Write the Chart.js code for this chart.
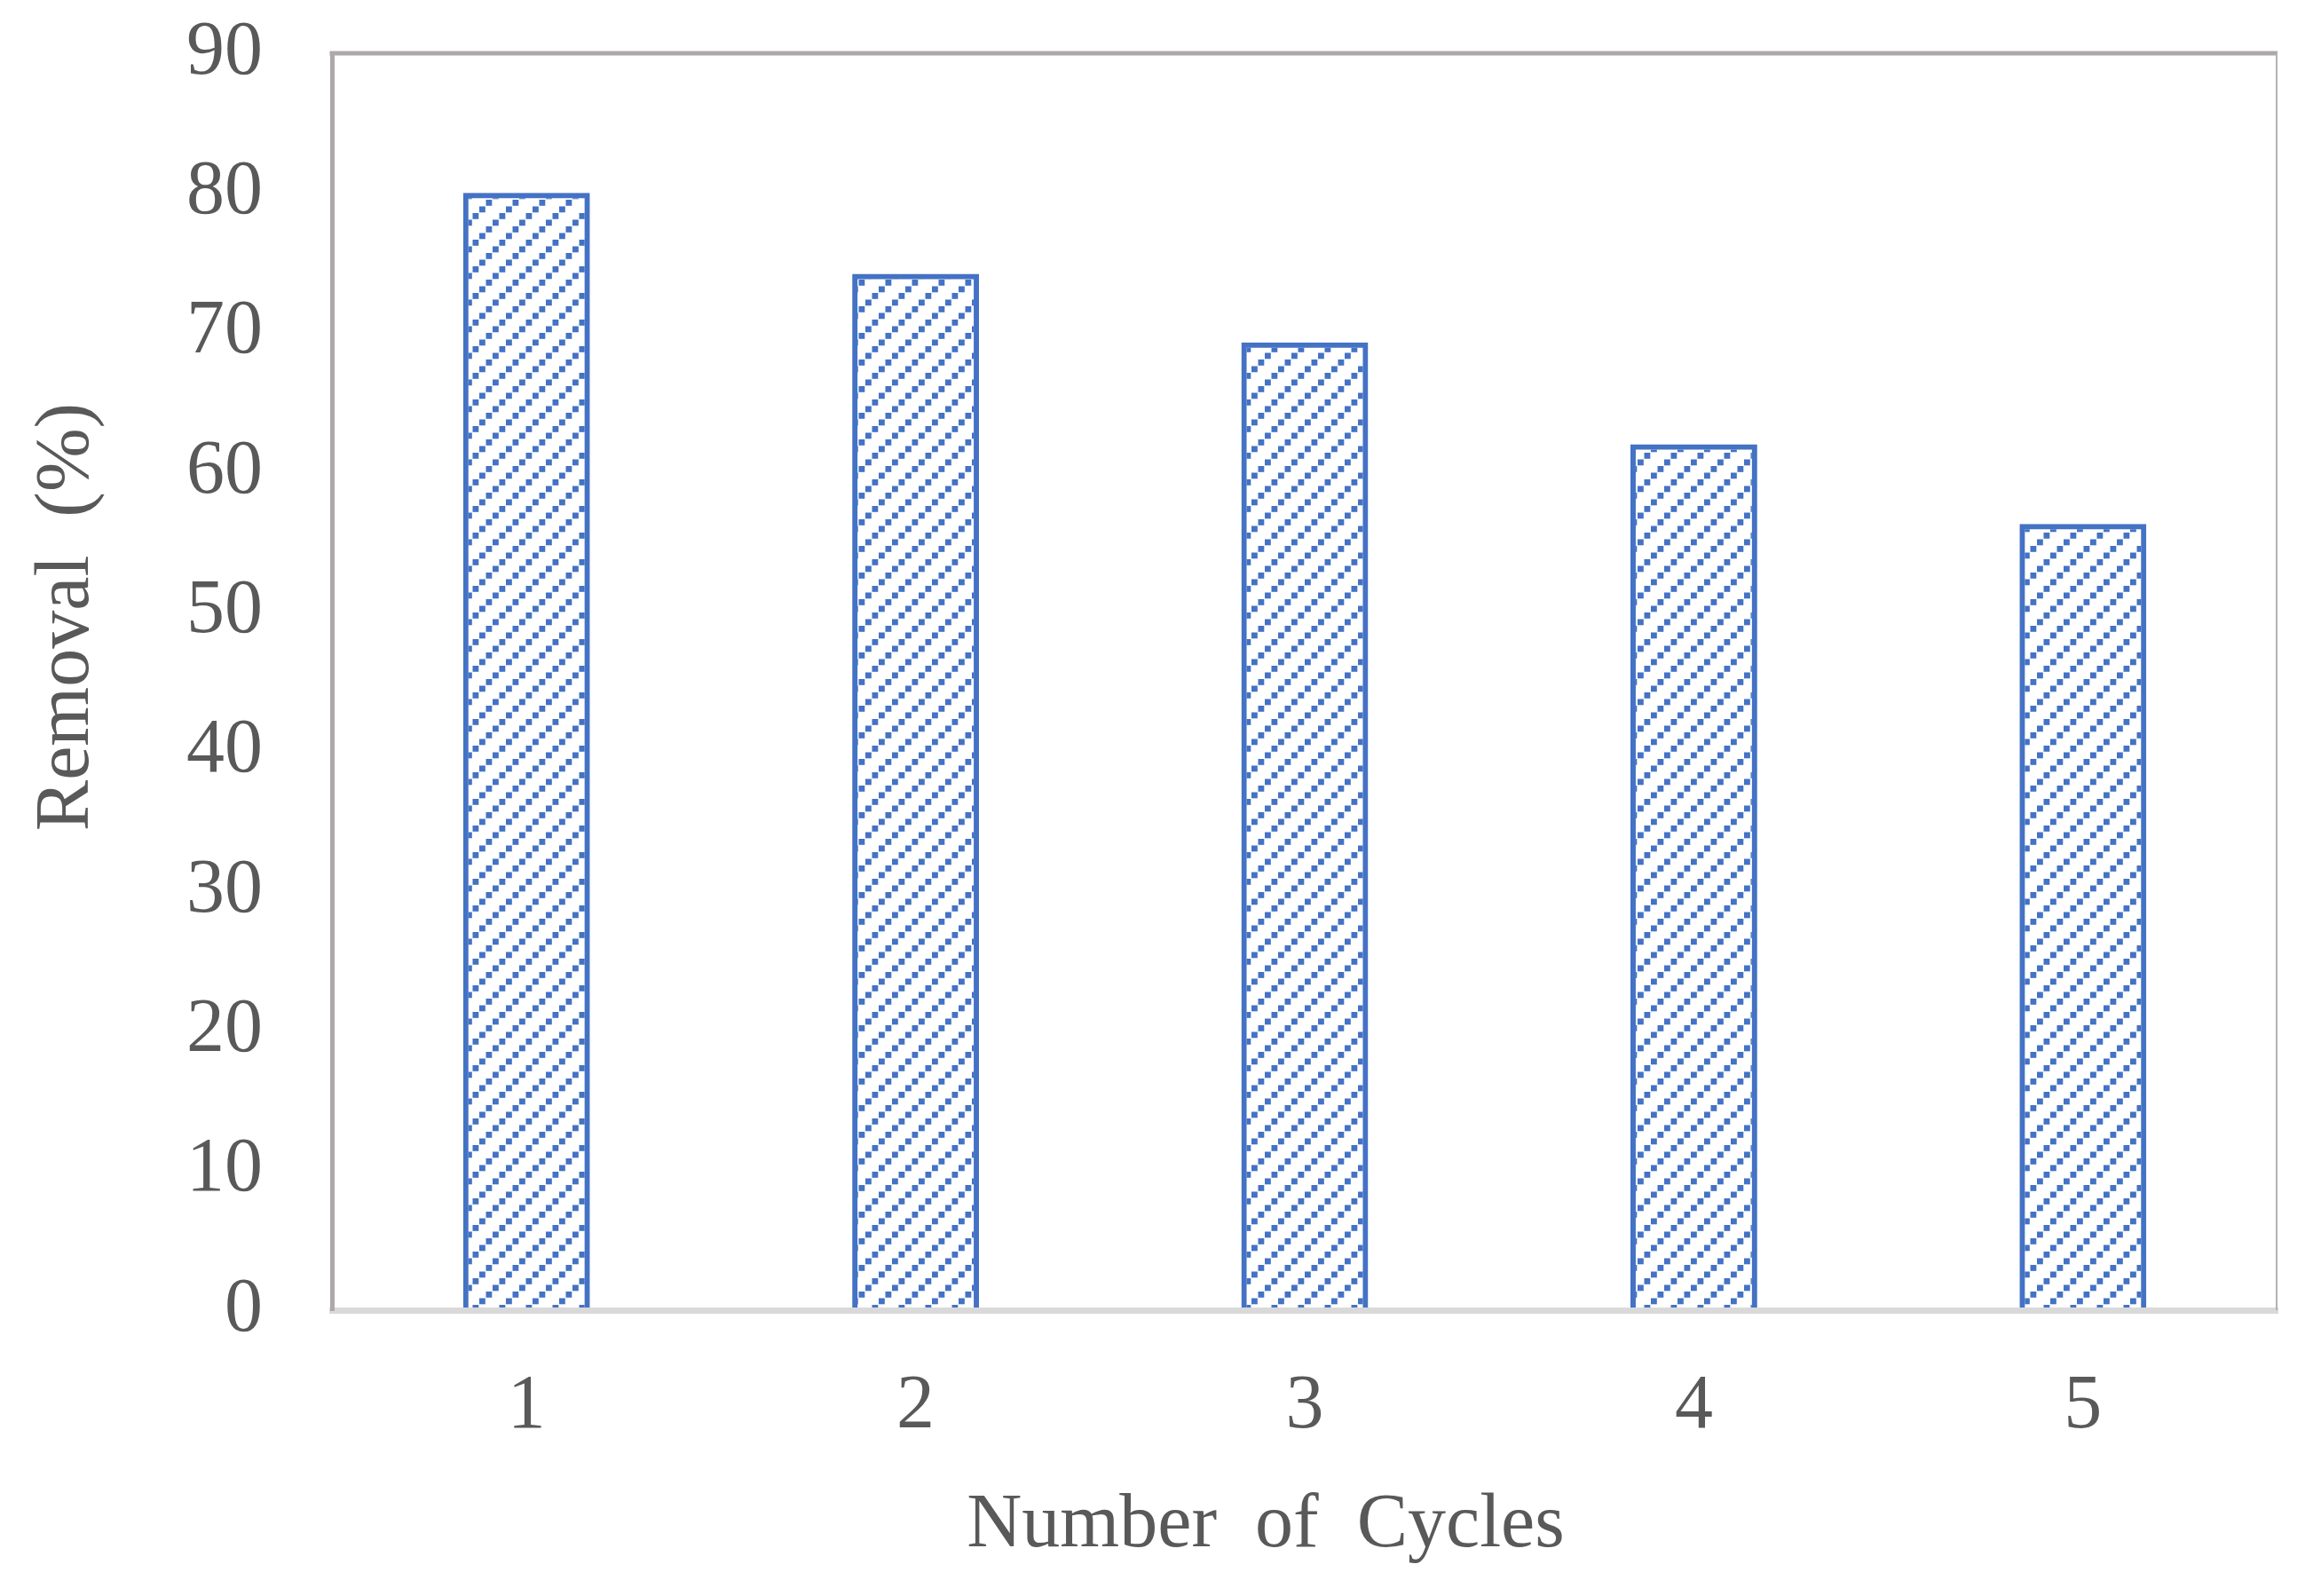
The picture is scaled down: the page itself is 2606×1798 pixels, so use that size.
<!DOCTYPE html>
<html>
<head>
<meta charset="utf-8">
<script src="https://cdn.jsdelivr.net/npm/chart.js@4.4.1/dist/chart.umd.min.js"></script>
<style>
  html, body { margin: 0; padding: 0; background: #fff; }
  canvas { display: block; }
</style>
</head>
<body>
<canvas id="removalChart" width="2606" height="1798"></canvas>
<script>
// dati
const cycles = ['1', '2', '3', '4', '5'];
const removal = [80, 74.2, 69.3, 62, 56.3];
const yTickValues = [0, 10, 20, 30, 40, 50, 60, 70, 80, 90];
const xTitle = 'Number  of  Cycles';
const yTitle = 'Removal  (%)';

const textColor = '#595959';
const barColor = '#4472C4';
const fontFamily = '"Liberation Serif", "Times New Roman", serif';

const canvas = document.getElementById('removalChart');
const ctx = canvas.getContext('2d');

// tratteggio diagonale a puntini, come il riempimento "a motivo" di Excel
function hatchPattern(color) {
    const tile = document.createElement('canvas');
    tile.width = 30;
    tile.height = 30;
    const t = tile.getContext('2d');
    t.fillStyle = color;
    for (let i = 0; i < 4; i++) {
        t.fillRect(i * 7.5, 30 - (i + 1) * 7.5, 6.8, 6.8);
    }
    return ctx.createPattern(tile, 'repeat');
}

// cornice sopra/destra e titoli degli assi
const frameAndTitles = {
    id: 'frameAndTitles',
    afterDraw(chart) {
        const c = chart.ctx;
        const a = chart.chartArea;
        c.save();
        c.strokeStyle = '#ADA9A8';
        c.lineWidth = 5;
        c.beginPath();
        c.moveTo(a.left - 2.5, a.top);
        c.lineTo(a.right, a.top);
        c.stroke();
        c.strokeStyle = '#B3B3B3';
        c.lineWidth = 2;
        c.beginPath();
        c.moveTo(a.right - 1, a.top);
        c.lineTo(a.right - 1, a.bottom);
        c.stroke();

        c.fillStyle = textColor;
        c.font = '86px ' + fontFamily;
        c.textAlign = 'center';
        c.textBaseline = 'alphabetic';
        c.fillText(xTitle, (a.left + a.right) / 2 - 44, a.bottom + 266);
        c.translate(99, (a.top + a.bottom) / 2 - 73);
        c.rotate(-Math.PI / 2);
        c.fillText(yTitle, 0, 0);
        c.restore();
    }
};

const removalChart = new Chart(ctx, {
    type: 'bar',
    data: {
        labels: cycles,
        datasets: [{
            data: removal,
            backgroundColor: hatchPattern(barColor),
            borderColor: barColor,
            borderWidth: 6,
            borderSkipped: 'start',
            barPercentage: 0.326,
            categoryPercentage: 1
        }]
    },
    options: {
        responsive: false,
        animation: false,
        devicePixelRatio: 1,
        layout: { padding: { top: 60, right: 40, bottom: 0, left: 0 } },
        plugins: {
            legend: { display: false },
            tooltip: { enabled: false }
        },
        scales: {
            x: {
                grid: { display: false, drawTicks: false },
                border: { display: true, color: '#D9D9D9', width: 7, z: 1 },
                ticks: {
                    color: textColor,
                    padding: 66,
                    font: { family: fontFamily, size: 86, lineHeight: 1 }
                },
                afterFit(scale) {
                    scale.height = 322;
                    scale.paddingLeft = 0;
                    scale.paddingRight = 0;
                }
            },
            y: {
                min: 0,
                max: 90,
                grid: { display: false, drawTicks: false },
                border: { display: true, color: '#ADA9A8', width: 5, z: 1 },
                ticks: {
                    color: textColor,
                    padding: 78,
                    font: { family: fontFamily, size: 86, lineHeight: 1 }
                },
                afterBuildTicks(scale) {
                    scale.ticks = yTickValues.map(v => ({ value: v }));
                },
                afterFit(scale) {
                    scale.width = 374;
                    scale.paddingTop = 0;
                    scale.paddingBottom = 0;
                }
            }
        }
    },
    plugins: [frameAndTitles]
});
</script>
</body>
</html>
